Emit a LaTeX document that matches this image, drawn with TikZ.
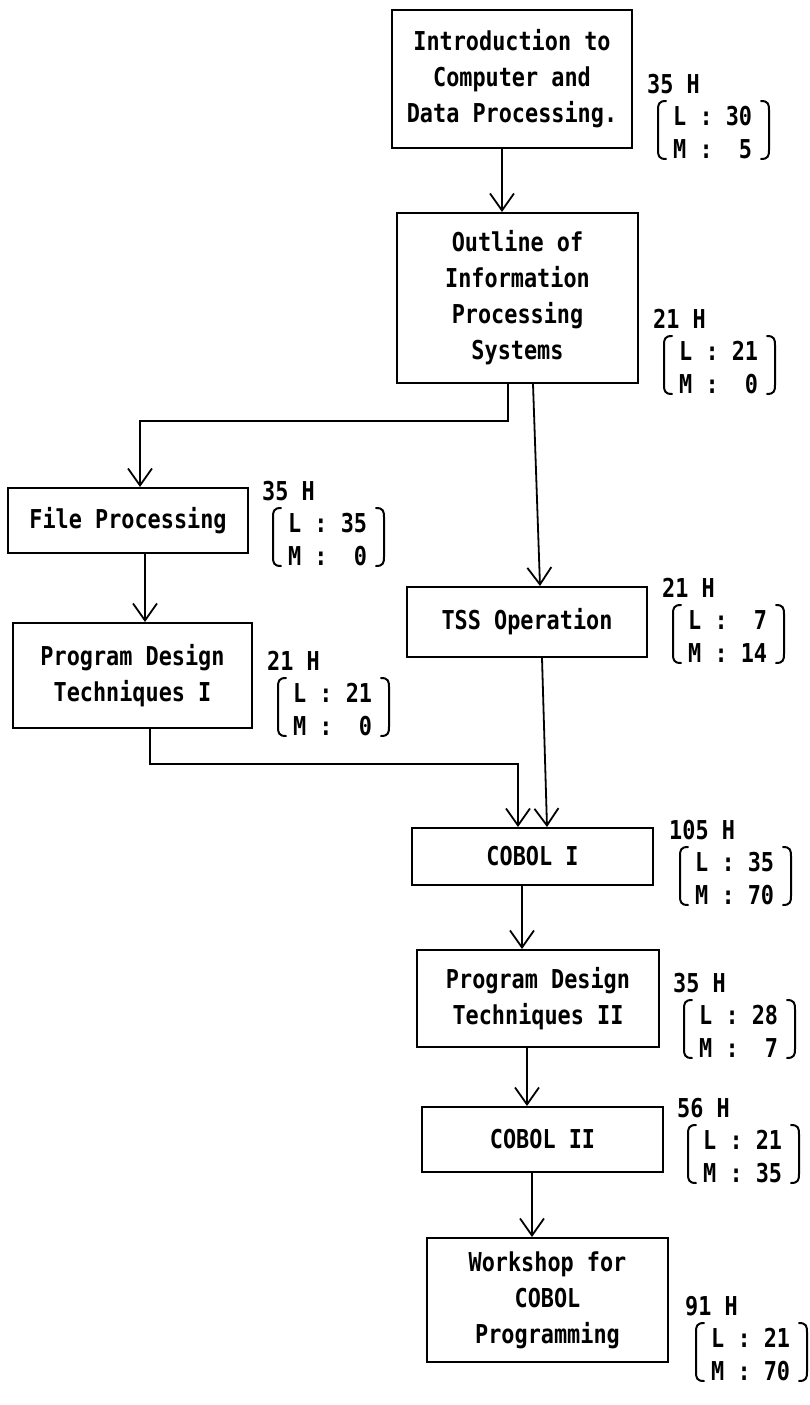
\documentclass[tikz,border=0pt]{standalone}
\usepackage{fontspec}
\newfontfamily\dotmono[FakeStretch=0.84]{DejaVu Sans Mono Bold}
\usetikzlibrary{arrows.meta}
\tikzset{
  course/.style={draw, line width=2pt, inner sep=0pt, align=center,
    font=\dotmono\fontsize{26}{36}\selectfont},
  tag/.style={inner sep=0pt, font=\dotmono\fontsize{26}{33}\selectfont},
  link/.style={line width=1.8pt,
    -{Straight Barb[length=17pt,width=24pt,line width=1.8pt]}},
  brk/.style={line width=2pt, line cap=round},
}
% hour tag: #1 name, #2 baseline-left point, #3 total hours, #4 L hours, #5 M hours
\newcommand\hourtag[5]{%
  \begin{scope}[shift={(#2)}]
    \node[tag, anchor=base west] (#1) at (0,0) {#3};
    \node[tag, anchor=base west] (#1L) at (26,32) {L : #4};
    \node[tag, anchor=base west] (#1M) at (26,65) {M : #5};
    \draw[brk] (19,8) .. controls (12,8) and (11,11) .. (11,17) -- (11,57)
      .. controls (11,63) and (12,66) .. (19,66);
    \draw[brk] (114,8) .. controls (121,8) and (122,11) .. (122,17) -- (122,57)
      .. controls (122,63) and (121,66) .. (114,66);
  \end{scope}}
\begin{document}
\begin{tikzpicture}[x=1pt,y=-1pt]
\useasboundingbox (0,0) rectangle (809,1405);

% course boxes
\node[course, minimum width=240pt, minimum height=138pt] (b1) at (512,79)
  {Introduction to\\Computer and\\Data Processing.};
\node[course, minimum width=241pt, minimum height=170pt] (b2) at (517.5,298)
  {Outline of\\Information\\Processing\\Systems};
\node[course, minimum width=240pt, minimum height=65pt] (b3) at (128,520.5)
  {File Processing};
\node[course, minimum width=239pt, minimum height=105pt] (b4) at (132.5,675.5)
  {Program Design\\Techniques I};
\node[course, minimum width=240pt, minimum height=70pt] (b5) at (527,622)
  {TSS Operation};
\node[course, minimum width=241pt, minimum height=57pt] (b6) at (532.5,856.5)
  {COBOL I};
\node[course, minimum width=242pt, minimum height=97pt] (b7) at (538,998.5)
  {Program Design\\Techniques II};
\node[course, minimum width=241pt, minimum height=65pt] (b8) at (542.5,1139.5)
  {COBOL II};
\node[course, minimum width=241pt, minimum height=124pt] (b9) at (547.5,1300)
  {Workshop for\\COBOL\\Programming};

% hours
\hourtag{h1}{647,93}{35 H}{30}{\phantom{0}5}
\hourtag{h2}{653,328}{21 H}{21}{\phantom{0}0}
\hourtag{h3}{262,500}{35 H}{35}{\phantom{0}0}
\hourtag{h4}{267,670}{21 H}{21}{\phantom{0}0}
\hourtag{h5}{662,597}{21 H}{\phantom{0}7}{14}
\hourtag{h6}{669,839}{105 H}{35}{70}
\hourtag{h7}{673,992}{35 H}{28}{\phantom{0}7}
\hourtag{h8}{677,1117}{56 H}{21}{35}
\hourtag{h9}{685,1315}{91 H}{21}{70}

% connectors
\draw[link] ([xshift=-10pt]b1.south) -- ([xshift=-10pt]b1.south |- b2.north);
\draw[link] ([xshift=-9.5pt]b2.south) -- ++(0,37) -| ([xshift=12pt]b3.north);
\draw[link] ([xshift=15.5pt]b2.south) -- ([xshift=13pt]b5.north);
\draw[link] ([xshift=17pt]b3.south) -- ([xshift=17pt]b3.south |- b4.north);
\draw[link] ([xshift=17.5pt]b4.south) -- ++(0,35) -| ([xshift=-14.5pt]b6.north);
\draw[link] ([xshift=15pt]b5.south) -- ([xshift=14.5pt]b6.north);
\draw[link] ([xshift=-10.5pt]b6.south) -- ([xshift=-10.5pt]b6.south |- b7.north);
\draw[link] ([xshift=-11pt]b7.south) -- ([xshift=-11pt]b7.south |- b8.north);
\draw[link] ([xshift=-10.5pt]b8.south) -- ([xshift=-10.5pt]b8.south |- b9.north);
\end{tikzpicture}
\end{document}
